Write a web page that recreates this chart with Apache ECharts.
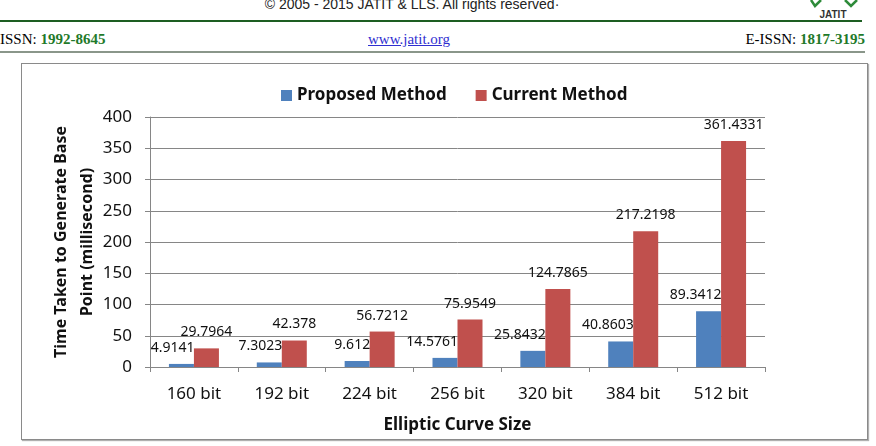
<!DOCTYPE html>
<html>
<head>
<meta charset="utf-8">
<script src="https://cdn.jsdelivr.net/npm/echarts@6/dist/echarts.min.js"></script>
<style>
  html, body { margin: 0; padding: 0; background: #fff; }
  body { width: 876px; height: 446px; position: relative; overflow: hidden; }
  .abs { position: absolute; white-space: nowrap; }
  .serif { font-family: 'Liberation Serif', 'DejaVu Serif', serif; font-size: 15px; line-height: 17px; }
  .grn { color: #1f7a2a; font-weight: bold; }
  #chart { position: absolute; left: 0; top: 0; width: 876px; height: 446px; }
</style>
</head>
<body>
<div class="abs" style="left:0;top:-4px;width:824px;text-align:center;font:14px 'Liberation Sans',Arial,sans-serif;line-height:16px;color:#222;">&copy; 2005 - 2015 JATIT &amp; LLS. All rights reserved&middot;</div>
<div class="abs" style="left:0;top:20px;width:862px;height:2px;background:#1d5e22;"></div>
<svg class="abs" style="left:805px;top:0;" width="60" height="20">
  <polyline points="6,0 10,6 16,0" fill="none" stroke="#2e8b3a" stroke-width="2.5"/>
  <polyline points="40,0 46,6 52,0" fill="none" stroke="#2e8b3a" stroke-width="2.5"/>
  <text x="28" y="18" text-anchor="middle" font-family="Liberation Sans, Arial" font-weight="bold" font-size="10" fill="#333">JATIT</text>
</svg>
<div class="abs serif" style="left:0;top:31px;">ISSN: <span class="grn">1992-8645</span></div>
<div class="abs serif" style="left:368px;top:31px;color:#2f2fd0;text-decoration:underline;">www.jatit.org</div>
<div class="abs serif" style="right:11px;top:31px;">E-ISSN: <span class="grn">1817-3195</span></div>
<div class="abs" style="left:0;top:51px;width:865px;height:2px;background:#8a968a;"></div>
<div class="abs" style="left:21px;top:63px;width:845px;height:375px;border:1px solid #8a8a8a;box-shadow:1px 1px 1px #b0b0b0;"></div>
<div id="chart"></div>
<script>
var categories = ['160 bit', '192 bit', '224 bit', '256 bit', '320 bit', '384 bit', '512 bit'];
var proposed = [4.9141, 7.3023, 9.612, 14.5761, 25.8432, 40.8603, 89.3412];
var current = [29.7964, 42.378, 56.7212, 75.9549, 124.7865, 217.2198, 361.4331];

var font = "'Noto Sans', sans-serif";
var chart = echarts.init(document.getElementById('chart'), null, { renderer: 'canvas' });

var option = {
  animation: false,
  textStyle: { fontFamily: font },
  legend: {
    left: 276,
    top: 82,
    itemWidth: 11,
    itemHeight: 11,
    itemGap: 29,
    icon: 'rect',
    textStyle: { fontSize: 17, fontWeight: 'bold', color: '#111', padding: [0, 0, 0, 0] },
    data: ['Proposed Method', 'Current Method']
  },
  grid: { left: 150, top: 117, right: 111, bottom: 79, containLabel: false },
  xAxis: {
    type: 'category',
    data: categories,
    name: 'Elliptic Curve Size',
    nameLocation: 'middle',
    nameGap: 50,
    nameMoveOverlap: false,
    nameTextStyle: { fontSize: 17, fontWeight: 'bold', color: '#111' },
    axisLine: { lineStyle: { color: '#868686', width: 1 } },
    axisTick: { show: true, length: 5, lineStyle: { color: '#868686' } },
    axisLabel: { fontSize: 17, color: '#111', margin: 19 }
  },
  yAxis: {
    type: 'value',
    min: 0,
    max: 400,
    interval: 50,
    name: 'Time Taken to Generate Base\nPoint (millisecond)',
    nameLocation: 'middle',
    nameGap: 50,
    nameMoveOverlap: false,
    nameTextStyle: { fontSize: 16, fontWeight: 'bold', color: '#111', lineHeight: 26 },
    axisLine: { show: true, lineStyle: { color: '#868686', width: 1 } },
    axisTick: { show: true, length: 5, lineStyle: { color: '#868686' } },
    axisLabel: { fontSize: 17, color: '#111', margin: 18 },
    splitLine: { lineStyle: { color: '#868686', width: 1 } }
  },
  series: [
    {
      name: 'Proposed Method',
      type: 'bar',
      data: proposed,
      barWidth: 25,
      barGap: '0%',
      itemStyle: { color: '#4f81bd' },
      label: {
        show: true,
        position: 'top',
        distance: 9,
        align: 'right',
        offset: [13, 0],
        fontSize: 14,
        color: '#111'
      }
    },
    {
      name: 'Current Method',
      type: 'bar',
      data: current,
      barWidth: 25,
      itemStyle: { color: '#c0504d' },
      label: {
        show: true,
        position: 'top',
        distance: 9,
        fontSize: 14,
        color: '#111'
      }
    }
  ]
};
chart.setOption(option);
</script>
</body>
</html>
